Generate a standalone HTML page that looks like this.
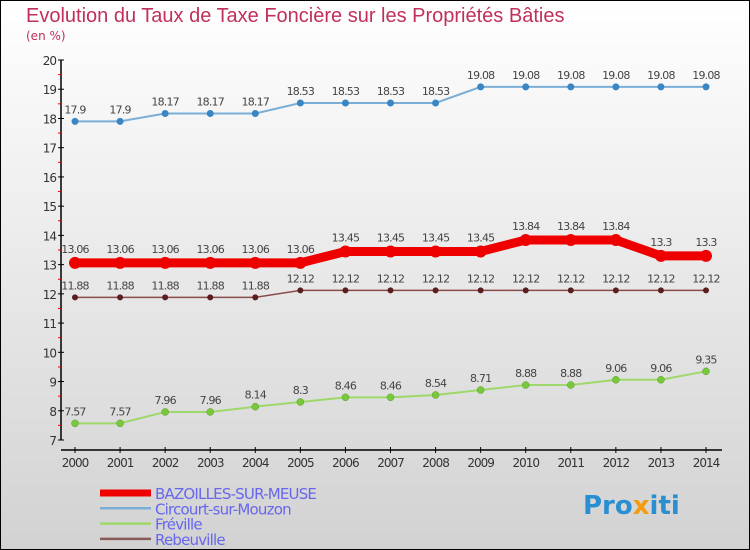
<!DOCTYPE html>
<html><head><meta charset="utf-8"><style>
body{margin:0}
svg{display:block;font-family:"DejaVu Sans","Liberation Sans",sans-serif}
</style></head><body>
<svg id="c" width="750" height="550">
<defs><linearGradient id="bg" x1="0" y1="0" x2="0" y2="1"><stop offset="0" stop-color="#ffffff"/><stop offset="1" stop-color="#d2d2d2"/></linearGradient></defs>
<rect x="0.5" y="0.5" width="749" height="549" fill="url(#bg)" stroke="#000"/>
<text x="26" y="22" font-size="20" fill="#c0305a" font-family="Liberation Sans, sans-serif">Evolution du Taux de Taxe Foncière sur les Propriétés Bâties</text>
<text x="26" y="40" font-size="12" fill="#c0305a">(en %)</text>
<g id="axes"></g><g id="series"></g><g id="legend"></g>
<text x="583" y="514" font-size="26" font-weight="bold" fill="#2a8fd0">Pro<tspan fill="#f39c12">x</tspan>iti</text>
</svg>
<script>
const years=[2000,2001,2002,2003,2004,2005,2006,2007,2008,2009,2010,2011,2012,2013,2014];
const yTicks=[7,8,9,10,11,12,13,14,15,16,17,18,19,20];
const bazoilles=[13.06,13.06,13.06,13.06,13.06,13.06,13.45,13.45,13.45,13.45,13.84,13.84,13.84,13.3,13.3];
const circourt=[17.9,17.9,18.17,18.17,18.17,18.53,18.53,18.53,18.53,19.08,19.08,19.08,19.08,19.08,19.08];
const freville=[7.57,7.57,7.96,7.96,8.14,8.3,8.46,8.46,8.54,8.71,8.88,8.88,9.06,9.06,9.35];
const rebeuville=[11.88,11.88,11.88,11.88,11.88,12.12,12.12,12.12,12.12,12.12,12.12,12.12,12.12,12.12,12.12];
const names=["BAZOILLES-SUR-MEUSE","Circourt-sur-Mouzon","Fréville","Rebeuville"];
const NS="http://www.w3.org/2000/svg";
const x=i=>75+i*(706-75)/(years.length-1);
const y=v=>440-(v-7)*(440-60)/13;
function mk(t,a,p){const e=document.createElementNS(NS,t);for(const k in a)e.setAttribute(k,a[k]);p.appendChild(e);return e;}
const ax=document.getElementById('axes');
let e=mk('line',{x1:61,y1:60,x2:61,y2:440,stroke:'#000','stroke-width':1.5},ax);


e=mk('line',{x1:61,y1:450,x2:722,y2:450,stroke:'#000','stroke-width':1.5},ax);


yTicks.forEach(v=>{
 mk('line',{x1:58,y1:y(v),x2:64,y2:y(v),stroke:'#000'},ax);
 if(v<20) mk('line',{x1:58,y1:y(v+0.5),x2:61,y2:y(v+0.5),stroke:'#e00'},ax);
 const t=mk('text',{x:56,y:y(v)+5,'font-size':12,fill:'#333','text-anchor':'end','letter-spacing':'-1'},ax);t.textContent=v;
 
 
});
years.forEach((yr,i)=>{
 mk('line',{x1:x(i),y1:447,x2:x(i),y2:453,stroke:'#000'},ax);
 const t=mk('text',{x:x(i),y:467,'font-size':12,fill:'#333','text-anchor':'middle','letter-spacing':'-1'},ax);t.textContent=yr;
 
 
});
const sg=document.getElementById('series');
const defs=[[bazoilles,'#ee0000','#ee0000',9,6,'bazoilles'],[circourt,'#7aaed6','#3a86c4',2,3.5,'circourt'],[freville,'#9fd86a','#78c83c',2,3.5,'freville'],[rebeuville,'#8a4b4b','#5a1e1e',1.5,3,'rebeuville']];
defs.forEach(([d,lc,pc,w,r,n])=>{
 const g=mk('g',{},sg);
 
 
 mk('polyline',{points:d.map((v,i)=>x(i)+','+y(v)).join(' '),fill:'none',stroke:lc,'stroke-width':w},g);
 d.forEach((v,i)=>{
  const c=mk('circle',{cx:x(i),cy:y(v),r:r,fill:pc,stroke:n==='freville'?'#5a9a2a':'none','stroke-width':0.5},g);
  
  
  const t=mk('text',{x:x(i),y:y(v)-(n==='bazoilles'?10:8),'font-size':11,fill:'#444','text-anchor':'middle','letter-spacing':'-0.8'},g);t.textContent=v;
  
  
 });
});
const lg=document.getElementById('legend');
const lcols=['#ee0000','#7aaed6','#9fd86a','#8a5a5a'];const lw=[7,2.5,2.5,2.5];
names.forEach((nm,i)=>{
 const yy=493+i*15.3;
 mk('line',{x1:100,y1:yy,x2:151,y2:yy,stroke:lcols[i],'stroke-width':lw[i]},lg);
 const t=mk('text',{x:155,y:yy+6,'font-size':15,fill:'#6666ee','letter-spacing':'-0.8'},lg);t.textContent=nm;
 
 
});
</script>
</body></html>
